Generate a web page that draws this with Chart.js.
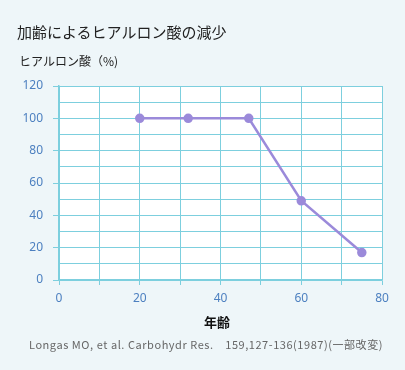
<!DOCTYPE html>
<html><head><meta charset="utf-8">
<script src="https://cdn.jsdelivr.net/npm/chart.js@4/dist/chart.umd.min.js"></script>
<style>
html,body{margin:0;padding:0;background:#eef6f9;}
#wrap{position:relative;width:405px;height:370px;overflow:hidden;font-family:"Noto Sans CJK JP","Noto Sans",sans-serif;}
#c{position:absolute;left:0;top:0;}
.t{position:absolute;white-space:nowrap;line-height:1;}
#title{left:17px;top:24px;font-size:15px;color:#222;}
#ytitle{left:19px;top:55px;font-size:12px;color:#222;}
#xtitle{left:0;width:434px;text-align:center;top:315px;font-size:13px;font-weight:bold;color:#111;}
#src{left:29px;top:339px;font-size:11px;color:#666;letter-spacing:0.55px;}
</style></head>
<body><div id="wrap">
<canvas id="c" width="405" height="370"></canvas>
<div class="t" id="title">加齢によるヒアルロン酸の減少</div>
<div class="t" id="ytitle">ヒアルロン酸（%)</div>
<div class="t" id="xtitle">年齢</div>
<div class="t" id="src">Longas MO, et al. Carbohydr Res.　159,127-136(1987)(一部改変)</div>
</div>
<script>
const ages = [20, 32, 47, 60, 75];
const hyaluronic = [100, 100, 100, 49, 17];
const xTickLabels = [0, 20, 40, 60, 80];
const yTickLabels = [0, 20, 40, 60, 80, 100, 120];

const gridColor = '#7dcfde';
const tickColor = '#4d80c0';

const plotBg = {
  id: 'plotBg',
  beforeDraw(chart) {
    const {ctx, chartArea: a} = chart;
    ctx.save();
    ctx.fillStyle = '#ffffff';
    ctx.fillRect(a.left, a.top, a.right - a.left, a.bottom - a.top);
    ctx.restore();
  }
};

new Chart(document.getElementById('c'), {
  type: 'line',
  data: {
    datasets: [{
      data: ages.map((a, i) => ({x: a, y: hyaluronic[i]})),
      borderColor: '#9b8ada',
      backgroundColor: '#9b8ada',
      borderWidth: 2.5,
      pointRadius: 3.5,
      pointHoverRadius: 3.5,
      tension: 0
    }]
  },
  options: {
    responsive: false,
    animation: false,
    events: [],
    layout: {padding: {top: 86, right: 23, left: 0, bottom: 0}},
    plugins: {legend: {display: false}, tooltip: {enabled: false}, title: {display: false}},
    scales: {
      x: {
        type: 'linear', min: 0, max: 80,
        afterFit(s) { s.height = 90; },
        border: {color: gridColor, width: 1.5},
        grid: {color: gridColor, lineWidth: 1, tickLength: 5, tickColor: gridColor},
        ticks: {
          stepSize: 10, autoSkip: false, maxRotation: 0, padding: 6,
          color: tickColor, font: {family: '"Noto Sans", sans-serif', size: 12},
          callback: v => xTickLabels.includes(v) ? String(v) : ''
        }
      },
      y: {
        type: 'linear', min: 0, max: 120,
        afterFit(s) { s.width = 59; },
        border: {color: gridColor, width: 1.5},
        grid: {
          color: gridColor, lineWidth: 1, tickLength: 6,
          tickColor: c => (yTickLabels.includes(c.tick && c.tick.value) ? gridColor : 'rgba(0,0,0,0)')
        },
        ticks: {
          stepSize: 10, autoSkip: false, padding: 10,
          color: tickColor, font: {family: '"Noto Sans", sans-serif', size: 12},
          callback: v => yTickLabels.includes(v) ? String(v) : ''
        }
      }
    }
  },
  plugins: [plotBg]
});
</script>
</body></html>
